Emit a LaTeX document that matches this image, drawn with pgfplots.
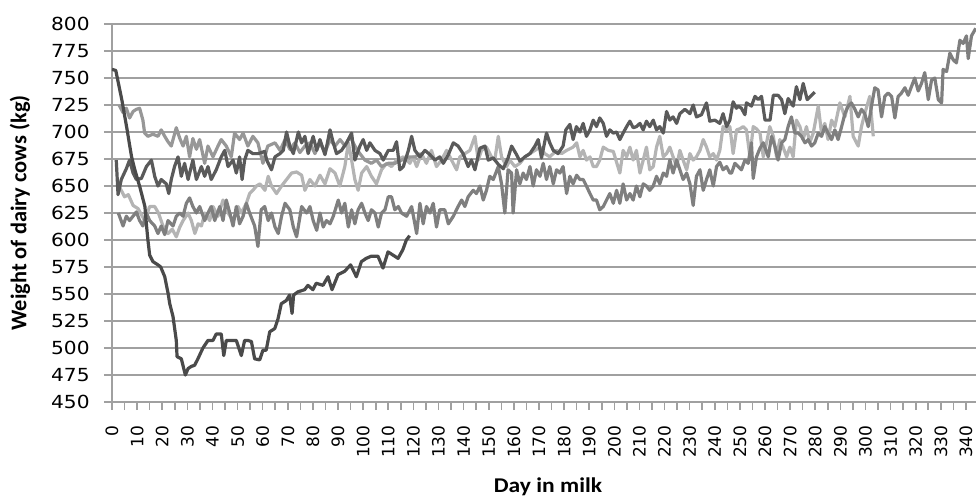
\documentclass[border=0pt]{standalone}
\usepackage{pgfplots}
\pgfplotsset{compat=1.18}
\usepackage{fontspec}
\setmainfont{DejaVu Sans}
\newfontfamily\ytickfont{DejaVu Sans}[FakeStretch=1.12]
\newfontfamily\xtickfont{DejaVu Sans}
\newfontfamily\titlefont{Carlito}[FakeStretch=1.12]
\newfontfamily\ytitlefont{Carlito}
\definecolor{gridgray}{HTML}{A0A0A0}
\definecolor{cA}{HTML}{4A4A4A}
\definecolor{cB}{HTML}{5A5A5A}
\definecolor{cC}{HTML}{7F7F7F}
\definecolor{cD}{HTML}{B4B4B4}
\definecolor{cE}{HTML}{979797}

\pgfplotstableread{
x y
0 758
1.5 757
3.9 730
5.8 705
7.8 677
9.1 665
11.1 649
13.1 631
13.8 612
14.3 600
15 586
16.3 580
18.3 577
19.4 575
21 566
22.3 551
23 541
24.3 529
25.6 507
25.9 492
27.6 490
29.2 475
30.3 481
31.6 483
32.9 484
34.2 490
36.2 500
38.2 507
40.2 507
41.5 513
43.5 513
44.5 493
45.5 507
47.5 507
49.5 507
51.5 493
52.8 507
54.1 507
55.5 506
56.8 490
58.8 489
60.1 498
61.4 498
62.8 515
64.8 518
66.1 527
67.4 541
69.4 544
70.7 549
71.7 532
72.3 549
74 552
76.7 554
78 558
80 554
81.3 560
84 558
86 566
87.6 554
90 568
92.6 571
95 577
97.3 566
99.3 580
101.2 583
103.2 585
105.9 585
107.9 574
109.9 589
113.9 583
115.8 591
117.2 600
118.5 604
}\serA

\pgfplotstableread{
x y
1.7 674
2.4 642
3.7 656
5.7 666
7 674
8.4 662
9.7 656
11.7 657
13.7 668
15.7 674
17 659
18.3 650
19.6 656
21.6 652
22.6 643
23.6 656
24.9 668
26.3 677
27.6 659
28.9 671
30.3 656
32.2 674
33.6 656
35.6 668
36.9 659
38.2 668
39.5 656
41.5 665
43.5 677
44.9 683
46.2 668
48.2 674
49.5 662
50.8 677
51.8 656
52.8 674
54.1 683
56.1 680
58.1 680
60.8 682
61.6 674
63.5 665
64.9 677
66.9 680
68.2 683
69.5 700
70.8 687
72.2 680
74.2 700
75.5 690
76.8 696
78.1 680
80.1 696
81.5 683
82.8 693
84.8 679
86.8 702
88.1 690
89.4 680
91.4 683
93.4 690
95.4 699
96.7 674
98.7 687
100 693
101.4 683
102.7 690
104.7 683
106.7 680
108 674
110 683
112 683
113.3 691
114.6 665
116 668
118 683
119.3 696
120.6 683
122.6 677
124.6 683
126.6 679
128.6 674
130.5 677
131.9 671
133.9 679
135.9 690
137.8 687
139.8 680
141.8 668
143.1 674
144.5 665
146.5 685
148.5 687
149.8 674
151.8 676
153.8 670
155.8 666
157.7 676
159.1 687
161.1 679
162.4 673
164.4 677
166.4 680
168.4 687
169.7 693
171 676
173 699
174.3 690
175.7 683
177.6 680
179.6 687
180.7 702
182.3 707
183.6 693
184.9 705
186.3 700
187.6 708
188.9 696
190.3 702
191.6 711
192.9 705
194.2 713
195.6 708
196.9 696
198.2 702
199.6 699
200.9 700
202.2 693
203.5 699
204.9 705
206.2 710
207.5 704
208.8 705
210.2 708
211.5 702
212.8 710
214.1 705
215.5 711
216.8 702
218.1 705
219.5 699
220.8 719
222.1 711
223.4 714
224.8 708
226.1 717
228.1 721
230.1 717
231.4 725
232.7 714
234.7 716
236.7 727
238 710
240 711
242 708
243.3 717
244.7 705
246 711
247.3 728
248.6 722
249.3 724
250.6 722
252 716
252.6 727
254.6 724
256 733
257.3 730
258.6 733
260 711
262 711
263.3 734
265.2 734
266.6 730
267.9 717
269.2 731
271.2 724
272.5 742
273.9 730
275.2 745
276.8 730
278.5 734
279.8 737
}\serB

\pgfplotstableread{
x y
2.5 625
3 622
4.4 613
5.7 622
7 618
9.7 626
11 618
12.3 613
13.7 625
15 618
17 613
18.3 606
19.6 613
21 605
22.3 618
24.3 613
25.6 622
27 625
28.3 622
29.6 634
30.9 639
32.2 631
33.6 625
34.9 631
36.9 618
38.2 625
39.5 631
40.9 618
42.9 631
44.2 618
45.5 637
46.9 625
48.2 613
49.5 631
50.8 615
52.2 622
53.5 634
54.8 625
56.8 613
58.1 594
59.4 628
60.8 631
62.2 618
63.5 625
64.9 612
66.2 606
67.5 622
68.9 634
70.8 628
72.2 612
73.5 603
75.5 631
77.5 625
78.8 631
80.1 618
81.5 609
82.8 625
84.1 612
85.4 618
86.8 615
88.1 622
90.1 637
91.4 625
92.7 634
94.1 612
95.4 628
96.7 615
98 628
99.4 634
100.7 625
102 618
103.3 628
104.7 625
106 612
107.3 625
108.7 628
110 640
111.3 640
112.6 628
114 631
115.3 625
117.3 622
119.3 631
121.3 606
122.6 634
123.9 615
125.2 631
126.6 625
127.9 634
129.2 612
130.5 628
132.5 628
133.9 615
135.9 622
137.8 631
139.2 637
140.5 631
141.8 640
143.8 646
145.1 643
146.5 650
147.8 637
149.1 646
150.4 659
151.8 656
153.8 668
155.1 652
156.4 625
157.7 665
159.1 662
159.7 625
161.1 665
162.4 652
163.7 662
165 656
166.4 668
167.7 650
169 665
170.4 659
171.7 671
173 656
174.3 668
175.7 652
177 665
178.3 662
179.6 668
181 643
182.3 659
183.6 652
185 660
186.3 656
187.6 656
188.9 650
190.3 643
191.6 637
192.9 637
194.2 628
195.6 631
196.9 637
198.2 643
199.6 634
200.9 646
202.2 634
203.5 652
204.9 637
206.2 643
207.5 637
208.8 650
210.2 640
211.5 652
212.8 650
214.1 646
215.5 650
216.8 659
218.1 652
219.5 662
220.8 659
222.1 674
223.4 662
224.8 674
226.1 665
227.4 656
228.8 662
230.1 652
231.4 632
232.7 659
234.1 665
235.4 646
236.7 656
238 665
239.4 650
240.7 668
242 672
243.3 665
244.7 668
246 662
246.7 662
248 671
249.3 668
250.6 665
252 674
253.3 671
254.6 690
255.3 657
256.6 677
258 685
259.3 690
261.3 677
262.6 696
263.9 687
265.2 674
266.6 690
267.9 693
269.2 705
270.5 714
271.9 699
273.2 699
274.5 696
275.9 690
277.2 693
278.5 687
279.8 690
281.2 699
282.5 696
283.8 705
285.1 699
286.5 693
287.8 702
289.1 693
290.5 705
291.8 717
293.1 724
294.4 727
295.8 721
297.1 714
298.4 721
299.7 717
301.1 705
302.4 724
303.7 741
305 739
306.4 714
307.7 733
309 736
310.4 733
311.7 713
313 733
314.3 736
315.7 741
317 734
318.3 742
319.6 750
321 738
322.3 745
323.6 755
325 730
326.3 748
327.6 750
329 730
330.3 727
330.9 758
332.3 756
333.6 773
334.9 767
336.2 764
337.6 785
338.9 782
340.2 789
340.9 768
342.2 789
343.9 796
}\serC

\pgfplotstableread{
x y
2.8 650
5 640
6.5 642
8.4 632
10.4 629
13 618
15 631
17 631
18.5 625
20.3 613
22.3 606
24 610
25.6 603
27 612
28.3 618
30.3 625
31.6 618
33 606
34.3 615
35.6 613
37 625
38.9 618
40.2 631
42.2 622
44.2 637
46.2 625
48.2 618
50.2 631
51.5 625
53.5 634
54.8 643
56.1 646
57.5 650
58.9 652
60.9 646
62.2 659
63.5 650
65.5 643
67.5 650
69.5 656
71.5 662
73.5 663
75.5 660
76.8 646
78.8 656
80.8 650
82.8 660
84.8 652
86.8 666
88.8 662
90.7 650
92.7 668
94.1 690
95.4 674
96.7 656
98 646
99.4 662
101.4 668
103.3 659
105.3 652
107.3 665
109.3 671
111.3 668
113.3 674
116 677
118.6 671
119.9 677
121.3 668
123.2 680
125.2 671
127.2 683
129.2 668
131.2 674
133.2 683
135.2 674
137.2 665
138.5 677
140.5 680
142.5 683
144.5 696
145.8 674
147.1 683
149.1 686
151.1 677
152.4 674
153.8 696
155.1 677
157.1 668
158.4 674
160.4 668
162.4 671
164.4 677
166.4 680
168.4 683
170.4 686
172.3 680
174.3 677
177 683
179 680
181 683
183.6 686
185 690
186.3 677
187.6 683
188.9 674
190.3 677
191.6 668
192.9 668
194.2 674
195.6 686
197.6 683
199.6 682
202.2 662
203.5 683
204.9 677
206.2 686
207.5 674
208.8 683
210.2 662
211.5 674
212.8 686
214.1 665
215.5 668
216.8 686
218.1 696
219.5 677
220.8 680
222.1 686
223.4 677
224.8 668
226.1 683
227.4 674
228.8 665
230.1 680
231.4 674
232.7 677
234.1 683
235.4 693
236.7 686
238 677
239.4 680
240.7 674
242 683
243.3 705
244.7 702
246 705
247.3 680
248.7 702
250 703
251.3 705
252.6 702
254 677
255.3 705
256.6 703
258 699
259.3 677
260.6 690
261.9 705
263.3 696
264.6 677
265.9 693
267.2 686
268.6 677
269.9 686
271.2 677
272.5 711
273.9 705
275.2 693
276.5 705
277.8 690
279.2 699
281.2 724
282.5 699
283.8 708
285.1 693
286.5 711
287.8 705
289.8 727
291.8 714
293.8 733
295.1 696
297.1 687
298.4 705
299.7 717
301.7 733
303.1 696
}\serD

\pgfplotstableread{
x y
2.8 725
4.4 718
5.7 722
7 713
8.4 719
9.7 721
11 722
12.3 711
13 699
14.3 696
16.3 698
18.3 696
19.6 702
21 696
22.3 691
23.6 687
25.6 704
27 694
28.3 687
29.6 696
30.9 677
32.2 694
33.6 684
34.9 693
36.9 671
38.2 687
40.2 677
42.2 687
43.5 693
45.5 687
47.5 677
48.8 699
50.8 693
52.2 699
54.1 687
56.1 696
58.1 690
60.1 671
62 687
64.9 690
66.9 683
68.9 693
70.8 684
72.8 690
74.8 681
76.8 687
78.8 690
80.8 680
82.8 690
84.8 681
86.8 693
88.8 687
90.8 693
92.8 687
94.8 696
96.7 687
98.7 680
100.7 674
103.3 671
105.3 674
107.3 668
110 671
112.6 671
115.3 674
118 677
120.6 677
123 680
}\serE

\begin{document}
\begin{tikzpicture}
\begin{axis}[
  scale only axis,
  width=432pt, height=189pt,
  xmin=0, xmax=344, ymin=450, ymax=800,
  ytick={450,475,...,800},
  xtick={0,10,...,340},
  minor xtick={5,15,...,335},
  ymajorgrids,
  major grid style={draw=gridgray, line width=0.8pt},
  axis lines*=left,
  axis line style={draw=gridgray, line width=0.8pt},
  tick align=outside,
  major tick length=4pt, minor tick length=4pt,
  tick style={draw=gridgray, line width=0.8pt},
  /pgf/number format/assume math mode=true,
  /pgf/number format/1000 sep={},
  yticklabel style={font=\ytickfont\fontsize{9}{9}\selectfont, anchor=east, inner sep=0pt, xshift=-7pt},
  xticklabel style={font=\xtickfont\fontsize{8.5}{8.5}\selectfont, yshift=-7.5pt, rotate=90, anchor=east, inner sep=0pt},
  every axis y label/.style={at={(rel axis cs:0,0.5)}, xshift=-46pt, rotate=90, anchor=center, font=\ytitlefont\bfseries\fontsize{11.2}{11.2}\selectfont},
  every axis x label/.style={at={(rel axis cs:0.5,0)}, yshift=-45pt, xshift=2pt, anchor=base, font=\titlefont\bfseries\fontsize{10.5}{10.5}\selectfont},
  xlabel={Day in milk},
  ylabel={Weight of dairy cows (kg)},
  line join=round,
]
\addplot[cD, line width=1.6pt] table {\serD};
\addplot[cE, line width=1.6pt] table {\serE};
\addplot[cC, line width=1.6pt] table {\serC};
\addplot[cB, line width=1.6pt] table {\serB};
\addplot[cA, line width=1.6pt] table {\serA};
\end{axis}
\pgfresetboundingbox
\path[use as bounding box] (-56pt,-46.5pt) rectangle (432pt,201pt);
\end{tikzpicture}
\end{document}
